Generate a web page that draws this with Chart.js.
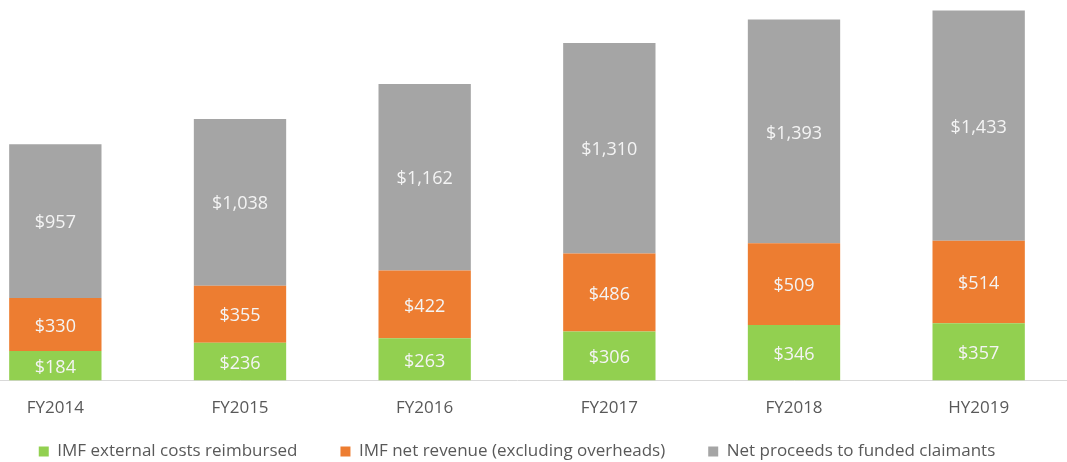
<!DOCTYPE html>
<html><head><meta charset="utf-8">
<script src="https://cdn.jsdelivr.net/npm/chart.js@4/dist/chart.umd.min.js"></script>
<style>
html,body{margin:0;padding:0;overflow:hidden;background:#fff;width:1067px;height:462px;}
#wrap{position:absolute;left:-37px;top:0;width:1108px;height:462px;}
</style></head><body>
<div id="wrap"><canvas id="c"></canvas></div>
<script>
const categories = ["FY2014","FY2015","FY2016","FY2017","FY2018","HY2019"];
const externalCosts = [184,236,263,306,346,357];
const netRevenue = [330,355,422,486,509,514];
const netProceeds = [957,1038,1162,1310,1393,1433];
const seriesNames = ["IMF external costs reimbursed","IMF net revenue (excluding overheads)","Net proceeds to funded claimants"];

const FONT = "'Open Sans', 'Liberation Sans', sans-serif";
const LEGEND_SHIFT = 35;

const valueLabels = {
  id: 'valueLabels',
  afterLayout(chart) {
    const lg = chart.legend;
    if (lg) { lg.top -= LEGEND_SHIFT; lg.bottom -= LEGEND_SHIFT; }
  },
  afterDatasetsDraw(chart) {
    const ctx = chart.ctx;
    ctx.save();
    ctx.fillStyle = '#f4f4f4';
    ctx.font = "18px " + FONT;
    ctx.textAlign = 'center';
    ctx.textBaseline = 'middle';
    chart.data.datasets.forEach((ds, i) => {
      const meta = chart.getDatasetMeta(i);
      meta.data.forEach((bar, j) => {
        const v = ds.data[j];
        const y = (bar.y + bar.base) / 2 + 2;
        ctx.fillText('$' + v.toLocaleString('en-US'), bar.x, y);
      });
    });
    ctx.restore();
  }
};

new Chart(document.getElementById('c'), {
  type: 'bar',
  data: {
    labels: categories,
    datasets: [
      {label: seriesNames[0], data: externalCosts, backgroundColor: '#92d050'},
      {label: seriesNames[1], data: netRevenue, backgroundColor: '#ed7d31'},
      {label: seriesNames[2], data: netProceeds, backgroundColor: '#a5a5a5'}
    ]
  },
  options: {
    responsive: true,
    maintainAspectRatio: false,
    animation: false,
    layout: {padding: {top: 0, bottom: -43, left: 0, right: 0}},
    datasets: {bar: {categoryPercentage: 0.5, barPercentage: 1.0}},
    scales: {
      x: {
        stacked: true,
        grid: {display: false, drawTicks: false},
        border: {display: true, color: '#d9d9d9', width: 1},
        ticks: {color: '#595959', font: {family: FONT, size: 17}, padding: 17}
      },
      y: {
        stacked: true,
        display: false,
        min: 0,
        max: 2370
      }
    },
    plugins: {
      legend: {
        position: 'bottom',
        labels: {
          color: '#595959',
          font: {family: FONT, size: 17},
          boxWidth: 10,
          boxHeight: 10,
          padding: 43
        }
      },
      tooltip: {enabled: false}
    }
  },
  plugins: [valueLabels]
});
</script>
</body></html>
